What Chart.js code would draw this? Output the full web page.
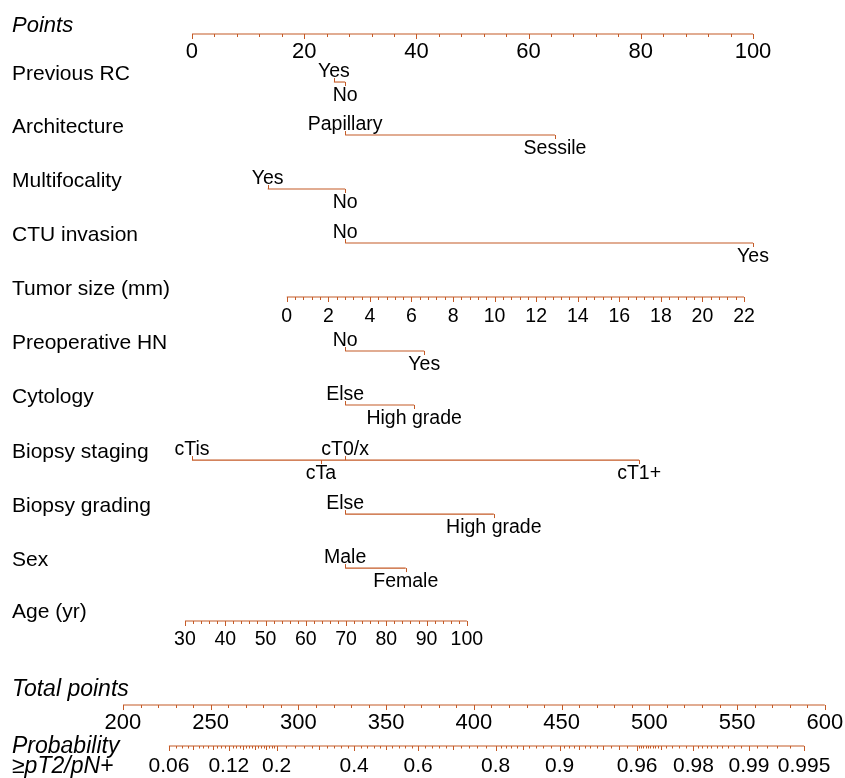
<!DOCTYPE html>
<html><head><meta charset="utf-8">
<script src="https://cdn.jsdelivr.net/npm/chart.js@4.4.1/dist/chart.umd.min.js"></script>
<style>html,body{margin:0;padding:0;background:#fff}#wrap{width:845px;height:778px;position:relative}</style>
</head><body><div id="wrap"><canvas id="c"></canvas></div>
<script>
// ---------------- data ----------------
const pointsTicks = [0, 20, 40, 60, 80, 100];
const pointsMinorStep = 4;

const prevRCLevels = ['Yes', 'No'];
const prevRCPoints = [25.3, 27.3];
const architectureLevels = ['Papillary', 'Sessile'];
const architecturePoints = [27.3, 64.7];
const multifocalityLevels = ['Yes', 'No'];
const multifocalityPoints = [13.5, 27.3];
const ctuLevels = ['No', 'Yes'];
const ctuPoints = [27.3, 100];

const tumorSizeTicks = [0, 2, 4, 6, 8, 10, 12, 14, 16, 18, 20, 22];
const tumorSizeMinorStep = 0.4;
const tumorSizeRange = [0, 22];
const tumorSizePointsRange = [16.9, 98.4];

const hnLevels = ['No', 'Yes'];
const hnPoints = [27.3, 41.4];
const cytologyLevels = ['Else', 'High grade'];
const cytologyPoints = [27.3, 39.6];
const stagingLevels = ['cTis', 'cTa', 'cT0/x', 'cT1+'];
const stagingPoints = [0, 23.0, 27.3, 79.7];
const gradingLevels = ['Else', 'High grade'];
const gradingPoints = [27.3, 53.8];
const sexLevels = ['Male', 'Female'];
const sexPoints = [27.3, 38.1];

const ageTicks = [30, 40, 50, 60, 70, 80, 90, 100];
const ageMinorStep = 2;
const ageRange = [30, 100];
const agePointsRange = [-1.25, 49.0];

const totalTicks = [200, 250, 300, 350, 400, 450, 500, 550, 600];
const totalMinorStep = 10;
const totalRange = [200, 600];
const totalPointsRange = [-12.3, 112.8];

const probTicks = [0.06, 0.12, 0.2, 0.4, 0.6, 0.8, 0.9, 0.96, 0.98, 0.99, 0.995];
const probMinorRanges = [[0.06, 0.2, 0.005], [0.2, 0.8, 0.02], [0.8, 0.9, 0.01], [0.9, 0.96, 0.005],
                         [0.96, 0.97, 0.001], [0.97, 0.98, 0.002], [0.98, 0.995, 0.001]];
const probMediumTicks = [0.08, 0.1, 0.14, 0.16, 0.18, 0.3, 0.5, 0.7, 0.85, 0.92, 0.94, 0.95, 0.97];
const probCenterTotal = 350;   // total points where probability = 0.5
const probTotalPerLogit = 45;  // total points per logit unit

// ---------------- layout / style ----------------
const ORANGE = '#c45a26';
const FONT = '"Liberation Sans", Arial, sans-serif';
const rowY = {points: 0.63, prevRC: 1.519, architecture: 2.5, multifocality: 3.5, ctu: 4.5, tumor: 5.5,
  hn: 6.5, cytology: 7.5, staging: 8.52, grading: 9.52, sex: 10.52, age: 11.5, total: 13.056, prob: 13.815};

const lin = (v, r, pr) => pr[0] + (v - r[0]) * (pr[1] - pr[0]) / (r[1] - r[0]);
const tumorToPts = v => lin(v, tumorSizeRange, tumorSizePointsRange);
const ageToPts = v => lin(v, ageRange, agePointsRange);
const totalToPts = v => lin(v, totalRange, totalPointsRange);
const probToPts = p => totalToPts(probCenterTotal + probTotalPerLogit * Math.log(p / (1 - p)));

const catRows = [
  {key: 'prevRC', label: 'Previous RC', levels: prevRCLevels, pts: prevRCPoints},
  {key: 'architecture', label: 'Architecture', levels: architectureLevels, pts: architecturePoints},
  {key: 'multifocality', label: 'Multifocality', levels: multifocalityLevels, pts: multifocalityPoints},
  {key: 'ctu', label: 'CTU invasion', levels: ctuLevels, pts: ctuPoints},
  {key: 'hn', label: 'Preoperative HN', levels: hnLevels, pts: hnPoints},
  {key: 'cytology', label: 'Cytology', levels: cytologyLevels, pts: cytologyPoints},
  {key: 'staging', label: 'Biopsy staging', levels: stagingLevels, pts: stagingPoints},
  {key: 'grading', label: 'Biopsy grading', levels: gradingLevels, pts: gradingPoints},
  {key: 'sex', label: 'Sex', levels: sexLevels, pts: sexPoints}
];

function seg(a, b, y) { return {data: [{x: a, y: y}, {x: b, y: y}], showLine: true, borderColor: ORANGE,
  borderWidth: 1.1, pointRadius: 0, fill: false, tension: 0}; }

const datasets = [];
datasets.push(seg(pointsTicks[0], pointsTicks[pointsTicks.length - 1], rowY.points));
catRows.forEach(r => datasets.push(seg(Math.min(...r.pts), Math.max(...r.pts), rowY[r.key])));
datasets.push(seg(tumorToPts(tumorSizeRange[0]), tumorToPts(tumorSizeRange[1]), rowY.tumor));
datasets.push(seg(ageToPts(ageRange[0]), ageToPts(ageRange[1]), rowY.age));
datasets.push(seg(totalToPts(totalRange[0]), totalToPts(totalRange[1]), rowY.total));
datasets.push(seg(probToPts(probTicks[0]), probToPts(probTicks[probTicks.length - 1]), rowY.prob));

function rangeSteps(a, b, s) { const out = []; const n = Math.round((b - a) / s); for (let i = 0; i <= n; i++) out.push(+(a + i * s).toFixed(6)); return out; }

const nomoPlugin = {
  id: 'nomo',
  afterDatasetsDraw(chart) {
    const ctx = chart.ctx, X = chart.scales.x, Y = chart.scales.y;
    const px = v => X.getPixelForValue(v), py = v => Y.getPixelForValue(v);
    ctx.save();
    ctx.strokeStyle = ORANGE; ctx.lineWidth = 1; ctx.fillStyle = '#000';
    function tick(xv, yPix, len, up) {
      const x = Math.round(px(xv)) + 0.5;
      ctx.beginPath(); ctx.moveTo(x, yPix); ctx.lineTo(x, up ? yPix - len : yPix + len); ctx.stroke();
    }
    function rowLabel(text, key, dy, italic, size) {
      ctx.font = (italic ? 'italic ' : '') + size + 'px ' + FONT;
      ctx.textAlign = 'left'; ctx.textBaseline = 'alphabetic';
      ctx.fillText(text, 12, py(rowY[key]) + dy);
    }
    function axis(key, major, minorStep, toPts, fontSize, dy, fmt) {
      const y = py(rowY[key]);
      const minors = rangeSteps(major[0], major[major.length - 1], minorStep);
      minors.forEach(v => tick(toPts(v), y, 3, false));
      major.forEach(v => tick(toPts(v), y, 5, false));
      ctx.font = fontSize + 'px ' + FONT; ctx.textAlign = 'center'; ctx.textBaseline = 'alphabetic';
      major.forEach(v => ctx.fillText(fmt ? fmt(v) : String(v), px(toPts(v)), y + dy));
    }
    // Points axis
    rowLabel('Points', 'points', -2, true, 22);
    axis('points', pointsTicks, pointsMinorStep, v => v, 22, 24);
    // categorical rows
    catRows.forEach(r => {
      rowLabel(r.label, r.key, -2, false, 21);
      const y = py(rowY[r.key]);
      ctx.font = '19.5px ' + FONT; ctx.textAlign = 'center'; ctx.textBaseline = 'alphabetic';
      r.levels.forEach((lev, i) => {
        const up = i % 2 === 0;
        tick(r.pts[i], y, 4, up);
        ctx.fillText(lev, px(r.pts[i]), up ? y - 5.5 : y + 19);
      });
    });
    // Tumor size
    rowLabel('Tumor size (mm)', 'tumor', -2, false, 21);
    axis('tumor', tumorSizeTicks, tumorSizeMinorStep, tumorToPts, 19.5, 25);
    // Age
    rowLabel('Age (yr)', 'age', -3, false, 21);
    axis('age', ageTicks, ageMinorStep, ageToPts, 19.5, 24);
    // Total points
    rowLabel('Total points', 'total', -9, true, 23);
    axis('total', totalTicks, totalMinorStep, totalToPts, 22, 24);
    // Probability
    rowLabel('Probability', 'prob', 7, true, 23);
    rowLabel('\u2265pT2/pN+', 'prob', 27, true, 23);
    const yP = py(rowY.prob);
    probMinorRanges.forEach(r => rangeSteps(r[0], r[1], r[2]).forEach(p => tick(probToPts(p), yP, 2.5, false)));
    probMediumTicks.forEach(p => tick(probToPts(p), yP, 4, false));
    probTicks.forEach(p => tick(probToPts(p), yP, 5, false));
    ctx.font = '21px ' + FONT; ctx.textAlign = 'center';
    probTicks.forEach(p => ctx.fillText(String(p), px(probToPts(p)), yP + 26));
    ctx.restore();
  }
};

new Chart(document.getElementById('c'), {
  type: 'scatter',
  data: {datasets: datasets},
  options: {
    animation: false, responsive: true, maintainAspectRatio: false,
    layout: {padding: 0},
    plugins: {legend: {display: false}, tooltip: {enabled: false}},
    scales: {
      x: {type: 'linear', min: -34.22, max: 116.40, display: false},
      y: {type: 'linear', min: 0, max: 778 / 54, reverse: true, display: false}
    }
  },
  plugins: [nomoPlugin]
});
</script></body></html>
